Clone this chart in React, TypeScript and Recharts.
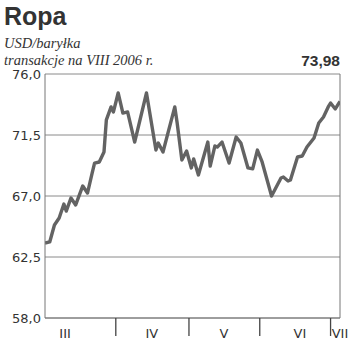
import React from "react";
import { LineChart, Line, XAxis, YAxis, CartesianGrid, ReferenceLine } from "recharts";

// calendar day, counted from the start of March 2006
const days = [
  1, 3, 5, 7, 9, 10, 12, 14, 17, 19, 21, 22, 24, 26, 27, 29, 30, 32, 34, 36,
  39, 44, 48, 49, 51, 56, 57, 59, 61, 63, 64, 66, 70, 71, 73, 74, 76, 79, 82,
  84, 87, 89, 91, 93, 97, 101, 102, 104, 105, 108, 110, 112, 115, 117, 119,
  121, 122, 124, 126,
];
// USD per barrel
const prices = [
  63.53, 63.61, 64.86, 65.38, 66.41, 65.89, 66.85, 66.34, 67.74, 67.22, 68.7,
  69.43, 69.51, 70.25, 72.61, 73.57, 73.2, 74.6, 73.12, 73.2, 70.98, 74.6,
  70.39, 70.91, 70.25, 73.57, 72.39, 69.66, 70.32, 69.07, 69.73, 68.55, 70.98,
  69.21, 70.69, 70.61, 70.98, 69.43, 71.35, 70.91, 69.07, 69.0, 70.39, 69.51,
  67.0, 68.33, 68.4, 68.11, 68.18, 69.88, 69.95, 70.61, 71.28, 72.39, 72.83,
  73.57, 73.86, 73.42, 73.98,
];
const yTicks = [58, 62.5, 67, 71.5, 76];
const monthStarts = [31, 62, 92, 122];
const monthNames = ["III", "IV", "V", "VI", "VII"];
const monthLabelDays = [9.5, 46.3, 76.8, 109, 126];
const lastValue = "73,98";

const data = days.map((d, i) => ({ day: d, price: prices[i] }));
const labelByDay: Record<number, string> = {};
monthLabelDays.forEach((d, i) => {
  labelByDay[d] = monthNames[i];
});

const MonthTick = (props: any) => {
  const { x, y, payload } = props;
  const label = labelByDay[payload.value];
  if (label) {
    return (
      <text x={x} y={y + 20} textAnchor="middle" fontSize={13} fill="#333" fontFamily="DejaVu Sans">
        {label}
      </text>
    );
  }
  return <line x1={x} x2={x} y1={y} y2={y + 18} stroke="#444" strokeWidth={1.3} />;
};

export default function App() {
  return (
    <div style={{ position: "absolute", left: 0, top: 0, width: 350, height: 350, background: "#fff" }}>
      <div style={{ position: "absolute", left: 4, top: 2, fontFamily: "Liberation Sans", fontWeight: "bold", fontSize: 25, color: "#333" }}>
        Ropa
      </div>
      <div style={{ position: "absolute", left: 4, top: 35, fontFamily: "Liberation Serif", fontStyle: "italic", fontSize: 14.5, lineHeight: "17px", color: "#333" }}>
        USD/baryłka
        <br />
        transakcje na VIII 2006 r.
      </div>
      <div style={{ position: "absolute", right: 10, top: 52, fontFamily: "Liberation Sans", fontWeight: "bold", fontSize: 15.5, color: "#333" }}>
        {lastValue}
      </div>
      <LineChart width={350} height={350} data={data} margin={{ top: 74, right: 10, left: 0, bottom: 0 }}>
        <CartesianGrid vertical={false} stroke="#8a8a8a" strokeWidth={1} />
        <XAxis
          dataKey="day"
          type="number"
          domain={[1, 126]}
          ticks={[...monthStarts, ...monthLabelDays]}
          interval={0}
          height={32}
          tickSize={0}
          tickMargin={0}
          tickLine={false}
          axisLine={{ stroke: "#777" }}
          tick={<MonthTick />}
          allowDataOverflow
        />
        <YAxis
          domain={[58, 76]}
          ticks={yTicks}
          width={45}
          tickLine={false}
          tickSize={0}
          tickMargin={4}
          axisLine={{ stroke: "#777" }}
          tick={{ fontSize: 13, fill: "#333", fontFamily: "DejaVu Sans" }}
          tickFormatter={(v: number) => v.toFixed(1).replace(".", ",")}
        />
        <ReferenceLine x={126} stroke="#777" />
        <Line
          type="linear"
          dataKey="price"
          stroke="#636363"
          strokeWidth={3.4}
          strokeLinejoin="round"
          dot={false}
          isAnimationActive={false}
        />
      </LineChart>
    </div>
  );
}
